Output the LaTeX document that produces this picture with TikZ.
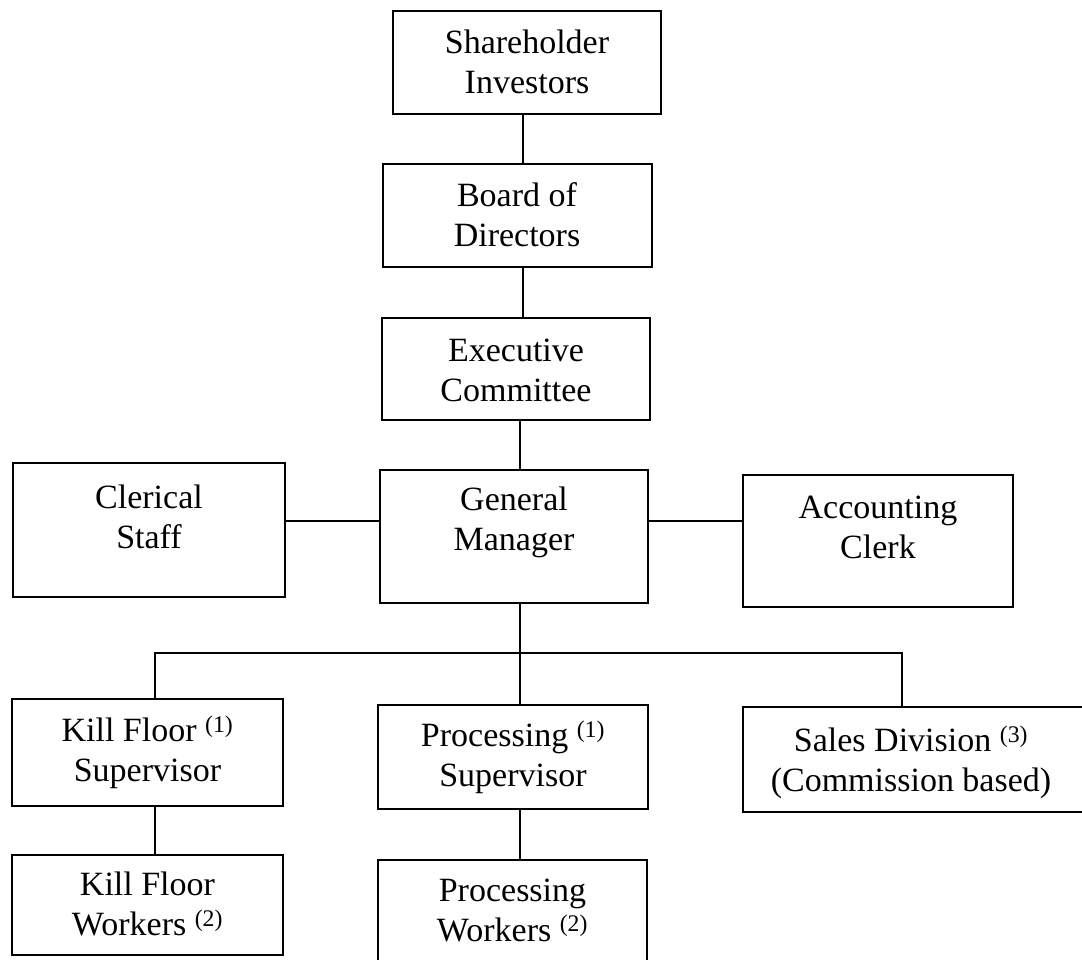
\documentclass[tikz,border=0pt]{standalone}
\usepackage{fontspec}
\setmainfont{Liberation Serif}
\begin{document}
\begin{tikzpicture}[x=1pt,y=-1pt,
  box/.style={draw=black, line width=1.6pt, rectangle, inner sep=0pt},
  lbl/.style={align=center, inner sep=0pt, font=\fontsize{34}{40}\selectfont},
  link/.style={draw=black, line width=1.6pt}]
\useasboundingbox (0,0) rectangle (1082,959);
\clip (0,0) rectangle (1082,959);
% boxes
\node[box, minimum width=268pt, minimum height=103pt] (SH) at (527,62.5) {};
\node[box, minimum width=269pt, minimum height=103pt] (BD) at (517.5,215.5) {};
\node[box, minimum width=268pt, minimum height=102pt] (EC) at (516,369) {};
\node[box, minimum width=268pt, minimum height=133pt] (GM) at (514,536.5) {};
\node[box, minimum width=272pt, minimum height=134pt] (CS) at (149,530) {};
\node[box, minimum width=270pt, minimum height=132pt] (AC) at (878,541) {};
\node[box, minimum width=271pt, minimum height=107pt] (KS) at (147.5,752.5) {};
\node[box, minimum width=270pt, minimum height=104pt] (PS) at (513,757) {};
\node[box, minimum width=344pt, minimum height=105pt] (SD) at (915,759.5) {};
\node[box, minimum width=271pt, minimum height=100pt] (KW) at (147.5,905) {};
\node[box, minimum width=269pt, minimum height=110pt] (PW) at (512.5,915) {};
% texts
\node[lbl] (tSH) at (527,62) {Shareholder\\Investors};
\node[lbl] (tBD) at (517,215) {Board of\\Directors};
\node[lbl] (tEC) at (516,370) {Executive\\Committee};
\node[lbl] (tGM) at (514,522) {General\\Manager};
\node[lbl] (tCS) at (149,517) {Clerical\\Staff};
\node[lbl] (tAC) at (878,527) {Accounting\\Clerk};
\node[lbl] (tKS) at (147.5,752) {Kill Floor \textsuperscript{(1)}\\Supervisor};
\node[lbl] (tPS) at (513,757) {Processing \textsuperscript{(1)}\\Supervisor};
\node[lbl] (tSD) at (911,762) {Sales Division \textsuperscript{(3)}\\(Commission based)};
\node[lbl] (tKW) at (147.5,904) {Kill Floor\\Workers \textsuperscript{(2)}};
\node[lbl] (tPW) at (512.5,910) {Processing\\Workers \textsuperscript{(2)}};
% helper coordinates
\coordinate (spine) at (523,0);
\coordinate (gmx) at (520,0);
\coordinate (bus) at (0,653);
\coordinate (sides) at (0,521);
\coordinate (kx) at (155,0);
\coordinate (sx) at (902,0);
% connectors
\draw[link] (SH.south -| spine) -- (BD.north -| spine);
\draw[link] (BD.south -| spine) -- (EC.north -| spine);
\draw[link] (EC.south -| gmx) -- (GM.north -| gmx);
\draw[link] (CS.east |- sides) -- (GM.west |- sides);
\draw[link] (GM.east |- sides) -- (AC.west |- sides);
\draw[link] (GM.south -| gmx) -- (bus -| gmx);
\draw[link] (KS.north -| kx) -- (bus -| kx) -- (bus -| sx) -- (SD.north -| sx);
\draw[link] (bus -| gmx) -- (PS.north -| gmx);
\draw[link] (KS.south -| kx) -- (KW.north -| kx);
\draw[link] (PS.south -| gmx) -- (PW.north -| gmx);
\end{tikzpicture}
\end{document}
